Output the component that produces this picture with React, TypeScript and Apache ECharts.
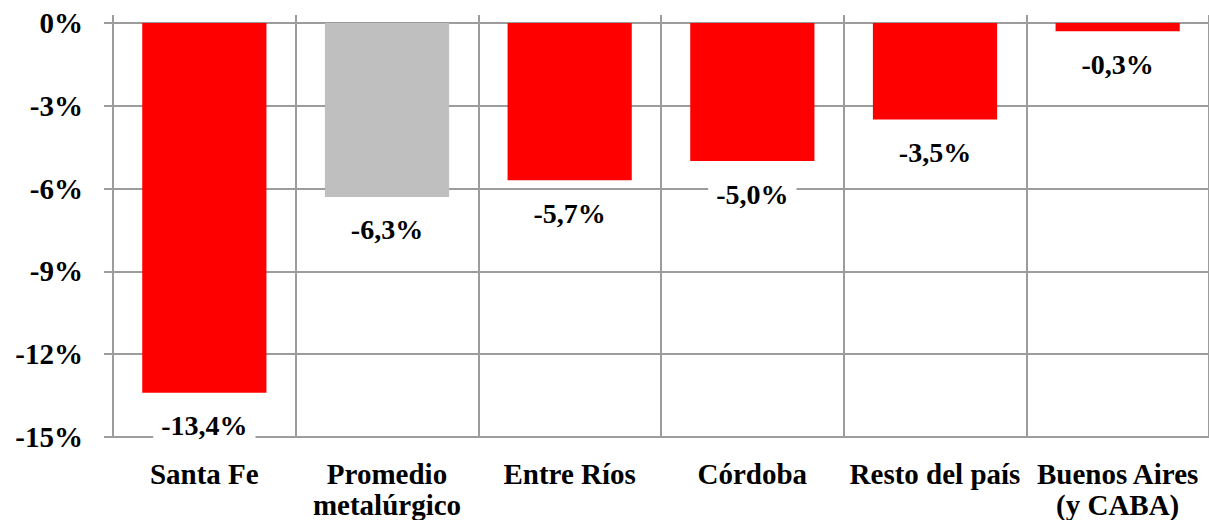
import React, { useEffect, useRef } from "react";
import * as echarts from "echarts";

const categories = ["Santa Fe", "Promedio\nmetalúrgico", "Entre Ríos", "Córdoba", "Resto del país", "Buenos Aires\n(y CABA)"];
const values = [-13.4, -6.3, -5.7, -5.0, -3.5, -0.3];
const barColors = ["#FF0000", "#BFBFBF", "#FF0000", "#FF0000", "#FF0000", "#FF0000"];
const yTicks = { min: -15, max: 0, interval: 3 };

const FONT = "Liberation Serif";
const GRID = "#9C9C9C";

export default function App() {
  const ref = useRef<HTMLDivElement>(null);
  useEffect(() => {
    if (!ref.current) return;
    const chart = echarts.init(ref.current, undefined, { renderer: "svg" });
    chart.setOption({
      animation: false,
      grid: { left: 113, top: 23, width: 1106, height: 415 },
      xAxis: [
        {
          type: "category",
          data: categories,
          position: "bottom",
          axisLine: { show: true, lineStyle: { color: GRID, width: 2 } },
          axisTick: { show: false },
          splitLine: { show: true, interval: 0, lineStyle: { color: GRID, width: 2 } },
          axisLabel: {
            interval: 0,
            margin: 21,
            color: "#000",
            fontFamily: FONT,
            fontWeight: "bold",
            fontSize: 29,
            lineHeight: 31,
          },
        },
        {
          type: "category",
          data: categories,
          position: "top",
          axisLine: { show: true, lineStyle: { color: GRID, width: 2 } },
          axisTick: { show: true, interval: 0, length: 8, lineStyle: { color: GRID, width: 2 } },
          axisLabel: { show: false },
          splitLine: { show: false },
        },
      ],
      yAxis: {
        type: "value",
        min: yTicks.min,
        max: yTicks.max,
        interval: yTicks.interval,
        axisLine: { show: true, lineStyle: { color: GRID, width: 2 } },
        axisTick: { show: true, length: 9, lineStyle: { color: GRID, width: 2 } },
        splitLine: { show: true, lineStyle: { color: GRID, width: 2 } },
        axisLabel: {
          margin: 30,
          color: "#000",
          fontFamily: FONT,
          fontWeight: "bold",
          fontSize: 29,
          formatter: (v: number) => `${v}%`,
        },
      },
      series: [
        {
          type: "bar",
          xAxisIndex: 0,
          barCategoryGap: "32%",
          data: values.map((v, i) => ({ value: v, itemStyle: { color: barColors[i] } })),
          label: {
            show: true,
            position: "bottom",
            distance: 14,
            color: "#000",
            fontFamily: FONT,
            fontWeight: "bold",
            fontSize: 28,
            lineHeight: 30,
            backgroundColor: "#fff",
            padding: [4, 8],
            formatter: (p: any) => `${p.value.toFixed(1).replace(".", ",")}%`,
          },
        },
      ],
    });
    return () => chart.dispose();
  }, []);
  return <div ref={ref} style={{ width: 1209, height: 520, position: "absolute", left: 0, top: 0 }} />;
}
